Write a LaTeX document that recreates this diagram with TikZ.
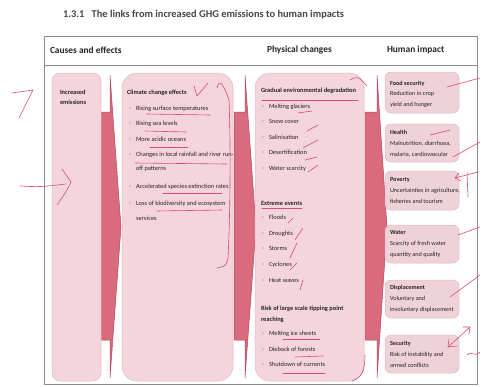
\documentclass[tikz,border=0pt]{standalone}
\usepackage{fontspec}
\setmainfont{Carlito}
\definecolor{boxfill}{HTML}{F3D5DB}
\definecolor{hfill}{HTML}{EFD2D8}
\definecolor{boxedge}{HTML}{E4BAC3}
\definecolor{arrfill}{HTML}{D96B7D}
\definecolor{arredge}{HTML}{B5475B}
\definecolor{penc}{HTML}{DC4A78}
\definecolor{framec}{HTML}{8C8C8C}
\definecolor{txtc}{HTML}{262626}
\newcommand\mytxt[3]{\node[txt,anchor=base west] (#1) at (#2) {#3};}
\newcommand\myhtxt[3]{\node[htxt,anchor=base west] (#1) at (#2) {#3};}
\newcommand\mybul[4]{\node[bul] (#1b) at (#2,#3-2) {};\node[txt,anchor=base west] (#1) at (#2+6,#3) {#4};}
\begin{document}
\begin{tikzpicture}[x=1pt,y=-1pt,
  every node/.style={inner sep=0pt,outer sep=0pt},
  txt/.style={text=txtc,font=\fontsize{6.4}{7}\selectfont},
  htxt/.style={text=txtc,font=\fontsize{6.2}{7}\selectfont},
  bul/.style={circle,fill=gray!65,minimum size=1.7pt},
  bigbox/.style={draw=boxedge,fill=boxfill,line width=0.5pt,anchor=north west},
  hbox/.style={draw=boxedge,fill=hfill,line width=0.5pt,anchor=north west,rounded corners=6pt,minimum width=74pt},
  blockarrow/.style={fill=arrfill,draw=arredge,line width=0.5pt},
  pen/.style={draw=penc,line width=0.6pt,line cap=round,line join=round},
  hdr/.style={text=txtc,font=\fontsize{9.4}{10}\selectfont\bfseries,anchor=west}]
\useasboundingbox (0,0) rectangle (482,386);
\fill[white] (0,0) rectangle (482,386);

% title
\node[text=txtc!85,font=\fontsize{10.4}{12}\selectfont\bfseries,anchor=west] (title) at (63,15) {1.3.1\hspace{5pt} The links from increased GHG emissions to human impacts};

% frame
\node[draw=framec,line width=0.6pt,anchor=north west,minimum width=433pt,minimum height=348pt] (frame) at (44,36) {};
\coordinate (sepL) at (44,65);
\coordinate (sepR) at (477,65);
\draw[framec,line width=0.6pt] (sepL) -- (sepR);
\node[hdr] (h1) at (50,50) {Causes and effects};
\node[hdr] (h2) at (267,50) {Physical changes};
\node[hdr] (h3) at (387,50) {Human impact};

% block arrows
\path[blockarrow] (101,112) -- (110,112) -- (110,75) -- (121,227) -- (110,378) -- (110,340) -- (101,340) -- cycle;
\path[blockarrow] (234,112) -- (245,112) -- (245,75) -- (256,227) -- (245,378) -- (245,340) -- (234,340) -- cycle;
\path[blockarrow] (365,112) -- (377,112) -- (377,75) -- (387,227) -- (377,378) -- (377,340) -- (365,340) -- cycle;

% main boxes
\node[bigbox,rounded corners=8pt,minimum width=49pt,minimum height=308pt] (emis) at (52,73) {};
\node[bigbox,rounded corners=15pt,minimum width=111pt,minimum height=308pt] (cce) at (122,73) {};
\node[bigbox,rounded corners=15pt,minimum width=109pt,minimum height=308pt] (phys) at (255,73) {};

% left box text
\mytxt{e1}{60,94}{\bfseries Increased}
\mytxt{e2}{60,104.5}{\bfseries emissions}

% climate change effects
\mytxt{c0}{127,94}{\bfseries Climate change effects}
\mybul{c1}{130}{110}{Rising surface temperatures}
\mybul{c2}{130}{125}{Rising sea levels}
\mybul{c3}{130}{141}{More acidic oceans}
\mybul{c4}{130}{156}{Changes in local rainfall and river run-}
\mytxt{c4x}{136,170}{off patterns}
\mybul{c5}{130}{188}{Accelerated species extinction rates}
\mybul{c6}{130}{205}{Loss of biodiversity and ecosystem}
\mytxt{c6x}{136,220}{services}

% physical changes
\mytxt{p0}{261,92}{\bfseries Gradual environmental degradation}
\mybul{p1}{263}{108}{Melting glaciers}
\mybul{p2}{263}{123}{Snow cover}
\mybul{p3}{263}{139}{Salinisation}
\mybul{p4}{263}{154}{Desertification}
\mybul{p5}{263}{170}{Water scarcity}
\mytxt{q0}{261,205}{\bfseries Extreme events}
\mybul{q1}{263}{219}{Floods}
\mybul{q2}{263}{235}{Droughts}
\mybul{q3}{263}{250}{Storms}
\mybul{q4}{263}{266}{Cyclones}
\mybul{q5}{263}{282}{Heat waves}
\mytxt{r0}{261,310}{\bfseries Risk of large scale tipping point}
\mytxt{r0x}{261,321}{\bfseries reaching}
\mybul{r1}{263}{335}{Melting ice sheets}
\mybul{r2}{263}{351}{Dieback of forests}
\mybul{r3}{263}{366}{Shutdown of currents}

% human impact boxes
\node[hbox,minimum height=41pt] (hb1) at (385,72) {};
\node[hbox,minimum height=38pt] (hb2) at (385,124) {};
\node[hbox,minimum height=39pt] (hb3) at (385,171) {};
\node[hbox,minimum height=38pt] (hb4) at (385,225) {};
\node[hbox,minimum height=38pt] (hb5) at (385,280) {};
\node[hbox,minimum height=38pt] (hb6) at (385,335) {};
\myhtxt{a1}{390,85}{\bfseries Food security}
\myhtxt{a2}{390,95.5}{Reduction in crop}
\myhtxt{a3}{390,106}{yield and hunger}
\myhtxt{b1}{390,134}{\bfseries Health}
\myhtxt{b2}{390,145}{Malnutrition, diarrhoea,}
\myhtxt{b3}{390,156}{malaria, cardiovascular}
\myhtxt{d1}{390,181}{\bfseries Poverty}
\myhtxt{d2}{390,192}{Uncertainties in agriculture,}
\myhtxt{d3}{390,203}{fisheries and tourism}
\myhtxt{f1}{390,234}{\bfseries Water}
\myhtxt{f2}{390,245}{Scarcity of fresh water}
\myhtxt{f3}{390,256}{quantity and quality}
\myhtxt{g1}{390,289}{\bfseries Displacement}
\myhtxt{g2}{390,300}{Voluntary and}
\myhtxt{g3}{390,311}{involuntary displacement}
\myhtxt{k1}{390,345}{\bfseries Security}
\myhtxt{k2}{390,356}{Risk of instability and}
\myhtxt{k3}{390,367}{armed conflicts}

% handwritten pen marks
\draw[pen] (12,93) -- (33,90) -- (19,118);
\draw[pen] (20,186) .. controls (40,187) .. (66,184);
\draw[pen] (62,169) -- (71,182) .. controls (66,192) .. (57,205);
\draw[pen] (194,86) -- (197,96) -- (208,83);
\draw[pen] (217,88) .. controls (219,80) and (222,80) .. (229,100) .. controls (231,150) and (230,220) .. (228,258) .. controls (226,266) .. (217,268);
\draw[pen] (147,114) -- (210,115);
\draw[pen] (145,131) -- (186,132);
\draw[pen] (150,147) -- (188,147);
\draw[pen] (135,163) -- (227,164);
\draw[pen] (163,193) -- (222,193);
\draw[pen] (157,211) -- (222,210);
\draw[pen] (262,100) -- (358,100);
\draw[pen] (350,80) .. controls (358,76) .. (367,86);
\draw[pen] (298,113) -- (312,111);
\draw[pen] (307,131) -- (318,125);
\draw[pen] (303,148) -- (318,140);
\draw[pen] (305,160) -- (317,157);
\draw[pen] (308,172) -- (318,165);
\draw[pen] (262,208) -- (302,208);
\draw[pen] (288,223) -- (293,218);
\draw[pen] (295,240) -- (303,228);
\draw[pen] (290,258) -- (297,243);
\draw[pen] (290,270) -- (297,263);
\draw[pen] (300,290) -- (303,280);
\draw[pen] (283,339) -- (320,339);
\draw[pen] (295,357) -- (323,356);
\draw[pen] (283,373) -- (325,373);
\draw[pen] (365,355) .. controls (365,370) and (362,378) .. (352,381);
\draw[pen] (447,87) -- (480,78);
\draw[pen] (430,135) -- (450,130);
\draw[pen] (453,157) -- (480,142);
\draw[pen] (455,178) -- (478,172);
\draw[pen] (459,173) -- (455,178) -- (461,181);
\draw[pen] (467,173) -- (468,197);
\draw[pen] (458,235) -- (480,227);
\draw[pen] (450,297) -- (480,275);
\draw[pen] (448,347) -- (470,327);
\draw[pen] (449,339) -- (448,347) -- (457,346);
\draw[pen] (463,327) -- (470,327) -- (469,334);
\draw[pen] (467,355) .. controls (472,350) and (474,358) .. (480,352);
\end{tikzpicture}
\end{document}
